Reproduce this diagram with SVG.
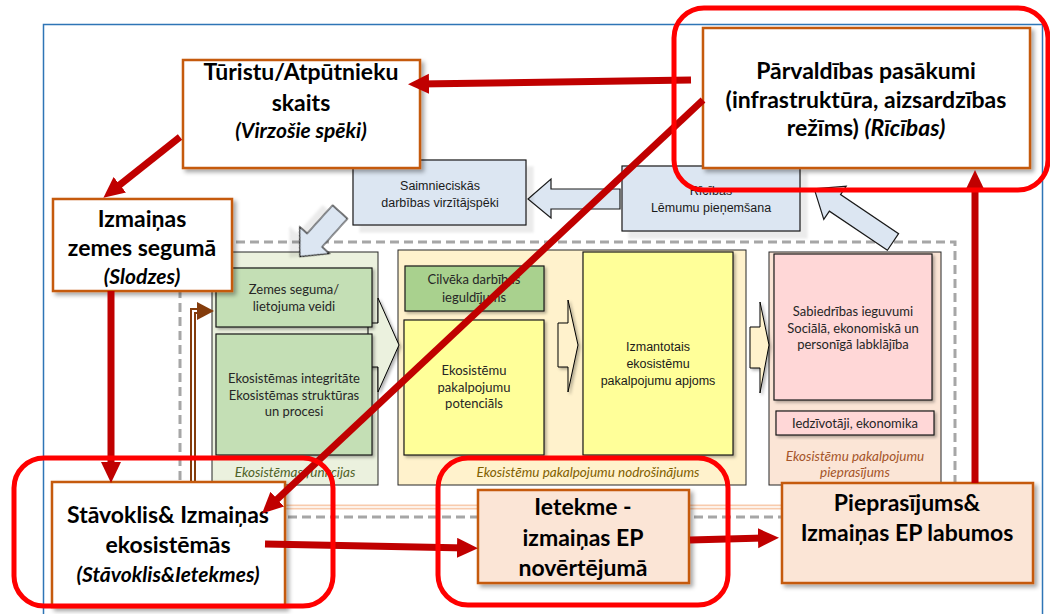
<svg xmlns="http://www.w3.org/2000/svg" width="1050" height="614" viewBox="0 0 1050 614">
<defs>
<filter id="sh" x="-10%" y="-10%" width="130%" height="130%"><feDropShadow dx="3" dy="3" stdDeviation="2" flood-color="#000" flood-opacity="0.35"/></filter>
<filter id="sh2" x="-10%" y="-10%" width="130%" height="130%"><feDropShadow dx="2" dy="2" stdDeviation="1.5" flood-color="#000" flood-opacity="0.3"/></filter>
<filter id="sh3" x="-10%" y="-10%" width="130%" height="130%"><feDropShadow dx="7" dy="7" stdDeviation="1" flood-color="#000" flood-opacity="0.08"/></filter>
<marker id="ah" markerUnits="userSpaceOnUse" markerWidth="22" markerHeight="22" refX="10" refY="10" orient="auto"><path d="M0,0 L21,10 L0,20 z" fill="#C00000"/></marker>
<style>
.big{font-family:Lato,"Liberation Sans",sans-serif;font-weight:bold;font-size:23px;fill:#000;text-anchor:middle}
.bigi{font-family:Lato,"Liberation Sans",sans-serif;font-weight:bold;font-style:italic;font-size:21px;fill:#000;text-anchor:middle}
.obox{fill:#fff;stroke:#C55A11;stroke-width:2.5;filter:url(#sh)}
.pbox{fill:#FBE5D6;stroke:#C55A11;stroke-width:2.5;filter:url(#sh)}
.sm{font-family:Lato,"Liberation Sans",sans-serif;font-size:13px;fill:#262626;text-anchor:middle}
.ar{font-family:"Liberation Sans",Arial,sans-serif;font-size:12.5px;fill:#1a1a1a;text-anchor:middle}
.lab{font-family:Lato,"Liberation Sans",sans-serif;font-style:italic;font-size:13.5px;text-anchor:middle}
.panel{stroke:#262626;stroke-width:1}
.inner{stroke:#1a1a1a;stroke-width:1.2;filter:url(#sh2)}
.blue{fill:#DCE6F2;stroke:#1a1a1a;stroke-width:1.2}
.chev{stroke:#000;stroke-width:1;filter:url(#sh2)}
.red{fill:none;stroke:#C00000;stroke-width:7;marker-end:url(#ah)}
.hl{fill:none;stroke:#FF0000;stroke-width:5}
</style>
</defs>
<rect x="0" y="0" width="1050" height="614" fill="#fff"/>
<rect x="43.5" y="24.5" width="999" height="600" fill="none" stroke="#2E75B6" stroke-width="1.5"/>
<rect x="180" y="242" width="775" height="275" fill="none" stroke="#A6A6A6" stroke-width="3" stroke-dasharray="9,5"/>

<g id="panel-funkcijas">
<rect class="panel" x="212" y="252" width="166" height="233" fill="#EBF1DE"/>
<text class="lab" x="295" y="477" fill="#4F6228">Ekosistēmas funkcijas</text>
</g>
<g id="panel-nodrosinajums">
<rect class="panel" x="398" y="250" width="348" height="235" fill="#FFF2CC"/>
<text class="lab" x="588" y="477" fill="#7F6000">Ekosistēmu pakalpojumu nodrošinājums</text>
</g>
<g id="panel-pieprasijums">
<rect class="panel" x="769" y="252" width="172" height="233" fill="#FBE5D6"/>
<text class="lab" x="855" y="461" fill="#A5552A">Ekosistēmu pakalpojumu</text>
<text class="lab" x="855" y="477" fill="#A5552A">pieprasījums</text>
</g>

<g id="connectors">
<polygon class="chev" points="368,323 378,323 378,298 399,345 378,392 378,367 368,367" fill="#EBF1DE"/>
<polygon class="chev" points="558,323 568,323 568,300 578,345 568,392 568,367 558,367" fill="#FFF2CC"/>
<polygon class="chev" points="750,327 760,327 760,302 769,345 760,393 760,368 750,368" fill="#FFF2CC"/>
<polygon points="620,189 551,189 551,179 528,199 551,218 551,209 620,209" class="blue"/>
<polygon points="0,-10 38,-10 38,-20 60,0 38,20 38,10 0,10" class="blue" filter="url(#sh3)" transform="translate(340,212) rotate(132)"/>
<polygon points="0,-10 70,-10 70,-20 95,0 70,20 70,10 0,10" class="blue" transform="translate(893,242) rotate(214)"/>
<path d="M193,507 L782,507" fill="none" stroke="#F8CBAD" stroke-width="5"/>
<path d="M193,507 L782,507" fill="none" stroke="#fff" stroke-width="1.5"/>
<path d="M193,500 L193,311 L200,311" fill="none" stroke="#843C0C" stroke-width="6"/>
<path d="M193,500 L193,311 L200,311" fill="none" stroke="#fff" stroke-width="2"/>
<polygon points="197,302 214,311 197,320" fill="#843C0C"/>
</g>

<g id="zemes-seguma">
<rect class="inner" x="216" y="268" width="156" height="59" fill="#C4DFB5"/>
<text class="sm" x="294" y="294">Zemes seguma/</text>
<text class="sm" x="294" y="311">lietojuma veidi</text>
</g>
<g id="integritate">
<rect class="inner" x="216" y="334" width="156" height="121" fill="#C4DFB5"/>
<text class="sm" x="294" y="383">Ekosistēmas integritāte</text>
<text class="sm" x="294" y="400">Ekosistēmas struktūras</text>
<text class="sm" x="294" y="416">un procesi</text>
</g>
<g id="cilveka">
<rect class="inner" x="405" y="266" width="139" height="45" fill="#A9D18E"/>
<text class="sm" x="474" y="284">Cilvēka darbības</text>
<text class="sm" x="474" y="302">ieguldījums</text>
</g>
<g id="potencials">
<rect class="inner" x="404" y="320" width="140" height="135" fill="#FFFF99"/>
<text class="sm" x="474" y="375">Ekosistēmu</text>
<text class="sm" x="474" y="392">pakalpojumu</text>
<text class="sm" x="474" y="408">potenciāls</text>
</g>
<g id="apjoms">
<rect class="inner" x="583" y="252" width="150" height="203" fill="#FFFF99"/>
<text class="ar" x="658" y="351">Izmantotais</text>
<text class="ar" x="658" y="368">ekosistēmu</text>
<text class="ar" x="658" y="385">pakalpojumu  apjoms</text>
</g>
<g id="ieguvumi">
<rect class="inner" x="774" y="254" width="158" height="146" fill="#FFD7D7"/>
<text class="sm" x="853" y="316">Sabiedrības ieguvumi</text>
<text class="sm" x="853" y="333">Sociālā, ekonomiskā un</text>
<text class="sm" x="853" y="349">personīgā labklājība</text>
</g>
<g id="iedzivotaji">
<rect class="inner" x="776" y="411" width="158" height="24" fill="#FFD7D7"/>
<text class="sm" x="855" y="428">Iedzīvotāji, ekonomika</text>
</g>

<g id="saimnieciskas">
<rect class="blue" x="353" y="160" width="173" height="65" filter="url(#sh3)"/>
<text class="ar" x="440" y="190">Saimnieciskās</text>
<text class="ar" x="440" y="207">darbības virzītājspēki</text>
</g>
<g id="ricibas">
<rect class="blue" x="622" y="166" width="178" height="65" filter="url(#sh3)"/>
<text class="ar" x="711" y="195">Rīcības</text>
<text class="ar" x="711" y="212">Lēmumu pieņemšana</text>
</g>

<g id="turistu">
<rect class="obox" x="183" y="60" width="237" height="108"/>
<text class="big" x="301" y="80">Tūristu/Atpūtnieku</text>
<text class="big" x="301" y="111">skaits</text>
<text class="bigi" x="301" y="138">(Virzošie spēki)</text>
</g>
<g id="izmainas-zemes">
<rect class="obox" x="53" y="199" width="179" height="92"/>
<text class="big" x="142" y="227">Izmaiņas</text>
<text class="big" x="142" y="256">zemes segumā</text>
<text class="bigi" x="142" y="284">(Slodzes)</text>
</g>
<g id="parvaldibas">
<rect class="obox" x="703" y="28" width="327" height="140"/>
<text class="big" x="866" y="79">Pārvaldības pasākumi</text>
<text class="big" x="866" y="108">(infrastruktūra, aizsardzības</text>
<text class="big" x="866" y="136">režīms) <tspan font-style="italic">(Rīcības)</tspan></text>
</g>
<g id="stavoklis">
<rect class="obox" x="52" y="482" width="233" height="125"/>
<text class="big" x="168" y="523">Stāvoklis&amp; Izmaiņas</text>
<text class="big" x="168" y="553">ekosistēmās</text>
<text class="bigi" x="168" y="582">(Stāvoklis&amp;Ietekmes)</text>
</g>
<g id="ietekme">
<rect class="pbox" x="478" y="490" width="211" height="93"/>
<text class="big" x="583" y="515">Ietekme -</text>
<text class="big" x="583" y="546">izmaiņas EP</text>
<text class="big" x="583" y="576">novērtējumā</text>
</g>
<g id="pieprasijums">
<rect class="pbox" x="782" y="483" width="251" height="100"/>
<text class="big" x="907" y="511">Pieprasījums&amp;</text>
<text class="big" x="907" y="541">Izmaiņas EP labumos</text>
</g>

<g id="red-arrows">
<line class="red" x1="691" y1="80" x2="419" y2="84"/>
<line class="red" x1="703" y1="100" x2="270" y2="506"/>
<line class="red" x1="180" y1="137" x2="112" y2="191"/>
<line class="red" x1="111" y1="291" x2="111" y2="472"/>
<line class="red" x1="265" y1="544" x2="467" y2="548"/>
<line class="red" x1="690" y1="540" x2="768" y2="538"/>
<line class="red" x1="975" y1="483" x2="975" y2="181"/>
</g>

<g id="highlights">
<rect class="hl" x="674" y="8" width="374" height="182" rx="30"/>
<rect class="hl" x="14" y="458" width="319" height="148" rx="30"/>
<rect class="hl" x="438" y="458" width="290" height="147" rx="30"/>
</g>
</svg>
